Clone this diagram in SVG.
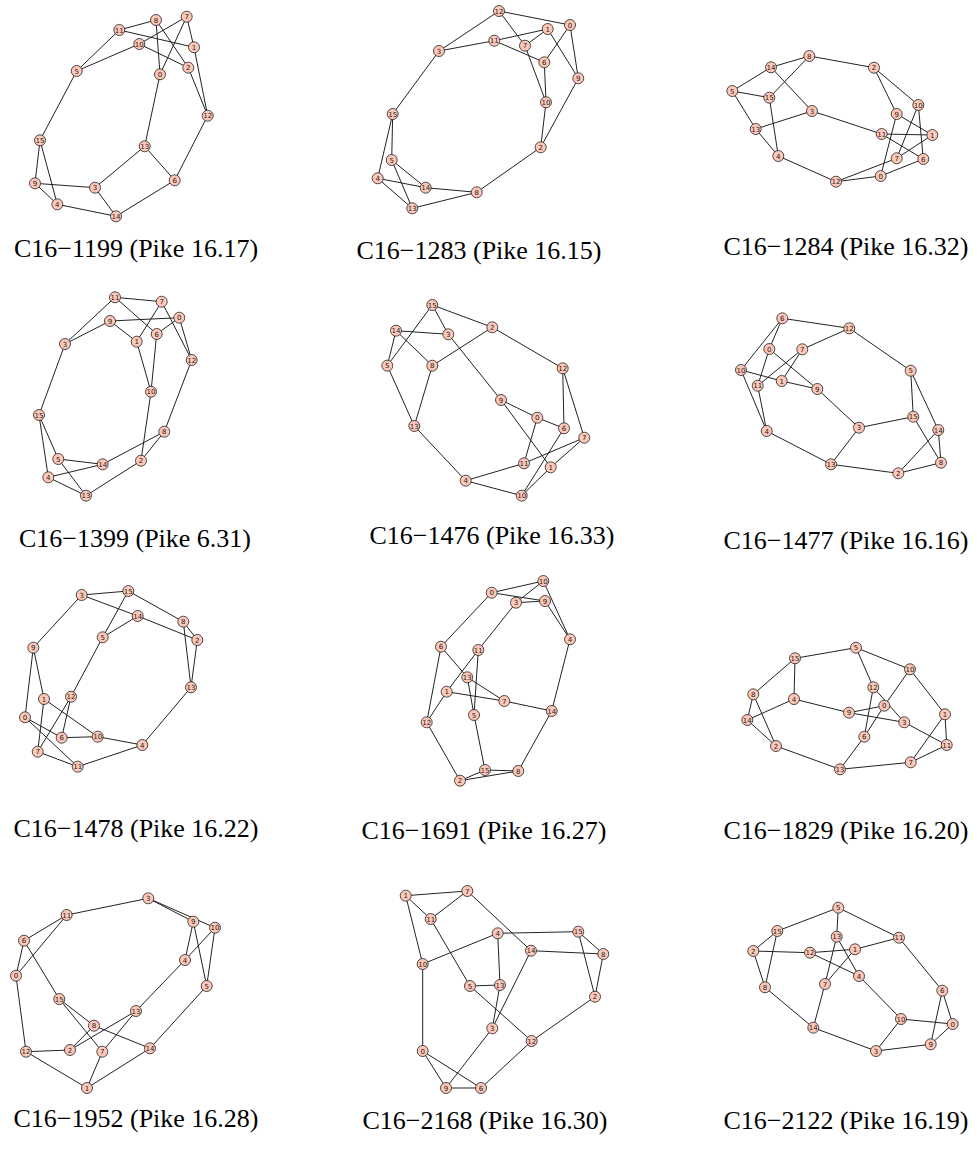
<svg xmlns="http://www.w3.org/2000/svg" width="977" height="1152" viewBox="0 0 977 1152">
<style>
  .edges path { stroke: #222; stroke-width: 1; fill: none; }
  .v circle { fill: #fec7b8; stroke: #222; stroke-width: 0.8; }
  .v text { font-family: "DejaVu Sans", sans-serif; font-size: 7px; fill: #222; text-anchor: middle; }
  .cap { font-family: "Liberation Serif", serif; font-size: 26px; fill: #000; text-anchor: middle; }
</style>
<rect width="977" height="1152" fill="#fff"/>

<!-- C16-1199 -->
<g id="graph-1199">
<g class="edges">
<path d="M119.3 30L156 20"/><path d="M156 20L160 74.3"/><path d="M156 20L188.3 67.7"/><path d="M186.7 16.7L139.3 44"/><path d="M186.7 16.7L160 74.3"/><path d="M186.7 16.7L194 47.3"/><path d="M119.3 30L194 47.3"/><path d="M119.3 30L76.7 71"/><path d="M139.3 44L76.7 71"/><path d="M139.3 44L188.3 67.7"/><path d="M194 47.3L207.7 115.7"/><path d="M188.3 67.7L207.7 115.7"/><path d="M207.7 115.7L174.7 180.3"/><path d="M160 74.3L144.7 146.3"/><path d="M144.7 146.3L174.7 180.3"/><path d="M144.7 146.3L95 187.7"/><path d="M76.7 71L40 140.3"/><path d="M40 140.3L35 183.3"/><path d="M40 140.3L57.3 204.3"/><path d="M35 183.3L95 187.7"/><path d="M35 183.3L57.3 204.3"/><path d="M95 187.7L116 216.3"/><path d="M57.3 204.3L116 216.3"/><path d="M116 216.3L174.7 180.3"/>
</g>
<g id="g1n0" class="v" transform="translate(160,74.3)"><circle r="5.5"/><text y="2.5">0</text></g>
<g id="g1n1" class="v" transform="translate(194,47.3)"><circle r="5.5"/><text y="2.5">1</text></g>
<g id="g1n2" class="v" transform="translate(188.3,67.7)"><circle r="5.5"/><text y="2.5">2</text></g>
<g id="g1n3" class="v" transform="translate(95,187.7)"><circle r="5.5"/><text y="2.5">3</text></g>
<g id="g1n4" class="v" transform="translate(57.3,204.3)"><circle r="5.5"/><text y="2.5">4</text></g>
<g id="g1n5" class="v" transform="translate(76.7,71)"><circle r="5.5"/><text y="2.5">5</text></g>
<g id="g1n6" class="v" transform="translate(174.7,180.3)"><circle r="5.5"/><text y="2.5">6</text></g>
<g id="g1n7" class="v" transform="translate(186.7,16.7)"><circle r="5.5"/><text y="2.5">7</text></g>
<g id="g1n8" class="v" transform="translate(156,20)"><circle r="5.5"/><text y="2.5">8</text></g>
<g id="g1n9" class="v" transform="translate(35,183.3)"><circle r="5.5"/><text y="2.5">9</text></g>
<g id="g1n10" class="v" transform="translate(139.3,44)"><circle r="5.5"/><text y="2.5">10</text></g>
<g id="g1n11" class="v" transform="translate(119.3,30)"><circle r="5.5"/><text y="2.5">11</text></g>
<g id="g1n12" class="v" transform="translate(207.7,115.7)"><circle r="5.5"/><text y="2.5">12</text></g>
<g id="g1n13" class="v" transform="translate(144.7,146.3)"><circle r="5.5"/><text y="2.5">13</text></g>
<g id="g1n14" class="v" transform="translate(116,216.3)"><circle r="5.5"/><text y="2.5">14</text></g>
<g id="g1n15" class="v" transform="translate(40,140.3)"><circle r="5.5"/><text y="2.5">15</text></g>
<text class="cap" x="136" y="257">C16−1199 (Pike 16.17)</text>
</g>

<!-- C16-1283 -->
<g id="graph-1283">
<g class="edges">
<path d="M499 11L570 25"/><path d="M499 11L439 51"/><path d="M499 11L525 45.7"/><path d="M570 25L544.3 62.3"/><path d="M570 25L578.3 78.3"/><path d="M547.7 29L494.3 40.7"/><path d="M547.7 29L525 45.7"/><path d="M547.7 29L578.3 78.3"/><path d="M494.3 40.7L439 51"/><path d="M494.3 40.7L544.3 62.3"/><path d="M525 45.7L546 102.3"/><path d="M544.3 62.3L546 102.3"/><path d="M546 102.3L540.7 147.3"/><path d="M578.3 78.3L540.7 147.3"/><path d="M540.7 147.3L476.7 192.3"/><path d="M439 51L392.7 114"/><path d="M392.7 114L391.7 160"/><path d="M392.7 114L377.7 178.3"/><path d="M391.7 160L425.7 187.7"/><path d="M391.7 160L412.3 208.3"/><path d="M377.7 178.3L425.7 187.7"/><path d="M377.7 178.3L412.3 208.3"/><path d="M425.7 187.7L476.7 192.3"/><path d="M412.3 208.3L476.7 192.3"/>
</g>
<g id="g2n0" class="v" transform="translate(570,25)"><circle r="5.5"/><text y="2.5">0</text></g>
<g id="g2n1" class="v" transform="translate(547.7,29)"><circle r="5.5"/><text y="2.5">1</text></g>
<g id="g2n2" class="v" transform="translate(540.7,147.3)"><circle r="5.5"/><text y="2.5">2</text></g>
<g id="g2n3" class="v" transform="translate(439,51)"><circle r="5.5"/><text y="2.5">3</text></g>
<g id="g2n4" class="v" transform="translate(377.7,178.3)"><circle r="5.5"/><text y="2.5">4</text></g>
<g id="g2n5" class="v" transform="translate(391.7,160)"><circle r="5.5"/><text y="2.5">5</text></g>
<g id="g2n6" class="v" transform="translate(544.3,62.3)"><circle r="5.5"/><text y="2.5">6</text></g>
<g id="g2n7" class="v" transform="translate(525,45.7)"><circle r="5.5"/><text y="2.5">7</text></g>
<g id="g2n8" class="v" transform="translate(476.7,192.3)"><circle r="5.5"/><text y="2.5">8</text></g>
<g id="g2n9" class="v" transform="translate(578.3,78.3)"><circle r="5.5"/><text y="2.5">9</text></g>
<g id="g2n10" class="v" transform="translate(546,102.3)"><circle r="5.5"/><text y="2.5">10</text></g>
<g id="g2n11" class="v" transform="translate(494.3,40.7)"><circle r="5.5"/><text y="2.5">11</text></g>
<g id="g2n12" class="v" transform="translate(499,11)"><circle r="5.5"/><text y="2.5">12</text></g>
<g id="g2n13" class="v" transform="translate(412.3,208.3)"><circle r="5.5"/><text y="2.5">13</text></g>
<g id="g2n14" class="v" transform="translate(425.7,187.7)"><circle r="5.5"/><text y="2.5">14</text></g>
<g id="g2n15" class="v" transform="translate(392.7,114)"><circle r="5.5"/><text y="2.5">15</text></g>
<text class="cap" x="479" y="259">C16−1283 (Pike 16.15)</text>
</g>

<!-- C16-1284 -->
<g id="graph-1284">
<g class="edges">
<path d="M771 67.3L809.3 56"/><path d="M809.3 56L874 67.7"/><path d="M809.3 56L769.3 97.7"/><path d="M771 67.3L732.3 91"/><path d="M771 67.3L812 111"/><path d="M732.3 91L769.3 97.7"/><path d="M732.3 91L755.7 129"/><path d="M769.3 97.7L778.3 156"/><path d="M755.7 129L812 111"/><path d="M755.7 129L778.3 156"/><path d="M812 111L881.7 134"/><path d="M874 67.7L896.7 114"/><path d="M874 67.7L918.3 105"/><path d="M896.7 114L932.3 135"/><path d="M896.7 114L880.7 176"/><path d="M918.3 105L896.7 158.3"/><path d="M918.3 105L923.3 159"/><path d="M881.7 134L932.3 135"/><path d="M881.7 134L923.3 159"/><path d="M932.3 135L896.7 158.3"/><path d="M896.7 158.3L836 181.7"/><path d="M778.3 156L836 181.7"/><path d="M836 181.7L880.7 176"/><path d="M880.7 176L923.3 159"/>
</g>
<g id="g3n0" class="v" transform="translate(880.7,176)"><circle r="5.5"/><text y="2.5">0</text></g>
<g id="g3n1" class="v" transform="translate(932.3,135)"><circle r="5.5"/><text y="2.5">1</text></g>
<g id="g3n2" class="v" transform="translate(874,67.7)"><circle r="5.5"/><text y="2.5">2</text></g>
<g id="g3n3" class="v" transform="translate(812,111)"><circle r="5.5"/><text y="2.5">3</text></g>
<g id="g3n4" class="v" transform="translate(778.3,156)"><circle r="5.5"/><text y="2.5">4</text></g>
<g id="g3n5" class="v" transform="translate(732.3,91)"><circle r="5.5"/><text y="2.5">5</text></g>
<g id="g3n6" class="v" transform="translate(923.3,159)"><circle r="5.5"/><text y="2.5">6</text></g>
<g id="g3n7" class="v" transform="translate(896.7,158.3)"><circle r="5.5"/><text y="2.5">7</text></g>
<g id="g3n8" class="v" transform="translate(809.3,56)"><circle r="5.5"/><text y="2.5">8</text></g>
<g id="g3n9" class="v" transform="translate(896.7,114)"><circle r="5.5"/><text y="2.5">9</text></g>
<g id="g3n10" class="v" transform="translate(918.3,105)"><circle r="5.5"/><text y="2.5">10</text></g>
<g id="g3n11" class="v" transform="translate(881.7,134)"><circle r="5.5"/><text y="2.5">11</text></g>
<g id="g3n12" class="v" transform="translate(836,181.7)"><circle r="5.5"/><text y="2.5">12</text></g>
<g id="g3n13" class="v" transform="translate(755.7,129)"><circle r="5.5"/><text y="2.5">13</text></g>
<g id="g3n14" class="v" transform="translate(771,67.3)"><circle r="5.5"/><text y="2.5">14</text></g>
<g id="g3n15" class="v" transform="translate(769.3,97.7)"><circle r="5.5"/><text y="2.5">15</text></g>
<text class="cap" x="846" y="255">C16−1284 (Pike 16.32)</text>
</g>

<!-- C16-1399 -->
<g id="graph-1399">
<g class="edges">
<path d="M115 297.3L161.7 301.7"/><path d="M115 297.3L156.7 334"/><path d="M115 297.3L65 344"/><path d="M161.7 301.7L136.7 341.7"/><path d="M161.7 301.7L191.7 360"/><path d="M179.3 317.7L110 321"/><path d="M179.3 317.7L156.7 334"/><path d="M179.3 317.7L191.7 360"/><path d="M110 321L65 344"/><path d="M110 321L136.7 341.7"/><path d="M136.7 341.7L151 391.7"/><path d="M156.7 334L151 391.7"/><path d="M151 391.7L141 460.7"/><path d="M191.7 360L164.3 431.7"/><path d="M164.3 431.7L141 460.7"/><path d="M164.3 431.7L102.7 464.3"/><path d="M65 344L39 415"/><path d="M39 415L58.3 459"/><path d="M39 415L48.3 477.3"/><path d="M58.3 459L102.7 464.3"/><path d="M58.3 459L86 495.7"/><path d="M48.3 477.3L102.7 464.3"/><path d="M48.3 477.3L86 495.7"/><path d="M86 495.7L141 460.7"/>
</g>
<g id="g4n0" class="v" transform="translate(179.3,317.7)"><circle r="5.5"/><text y="2.5">0</text></g>
<g id="g4n1" class="v" transform="translate(136.7,341.7)"><circle r="5.5"/><text y="2.5">1</text></g>
<g id="g4n2" class="v" transform="translate(141,460.7)"><circle r="5.5"/><text y="2.5">2</text></g>
<g id="g4n3" class="v" transform="translate(65,344)"><circle r="5.5"/><text y="2.5">3</text></g>
<g id="g4n4" class="v" transform="translate(48.3,477.3)"><circle r="5.5"/><text y="2.5">4</text></g>
<g id="g4n5" class="v" transform="translate(58.3,459)"><circle r="5.5"/><text y="2.5">5</text></g>
<g id="g4n6" class="v" transform="translate(156.7,334)"><circle r="5.5"/><text y="2.5">6</text></g>
<g id="g4n7" class="v" transform="translate(161.7,301.7)"><circle r="5.5"/><text y="2.5">7</text></g>
<g id="g4n8" class="v" transform="translate(164.3,431.7)"><circle r="5.5"/><text y="2.5">8</text></g>
<g id="g4n9" class="v" transform="translate(110,321)"><circle r="5.5"/><text y="2.5">9</text></g>
<g id="g4n10" class="v" transform="translate(151,391.7)"><circle r="5.5"/><text y="2.5">10</text></g>
<g id="g4n11" class="v" transform="translate(115,297.3)"><circle r="5.5"/><text y="2.5">11</text></g>
<g id="g4n12" class="v" transform="translate(191.7,360)"><circle r="5.5"/><text y="2.5">12</text></g>
<g id="g4n13" class="v" transform="translate(86,495.7)"><circle r="5.5"/><text y="2.5">13</text></g>
<g id="g4n14" class="v" transform="translate(102.7,464.3)"><circle r="5.5"/><text y="2.5">14</text></g>
<g id="g4n15" class="v" transform="translate(39,415)"><circle r="5.5"/><text y="2.5">15</text></g>
<text class="cap" x="135" y="547">C16−1399 (Pike 6.31)</text>
</g>

<!-- C16-1476 -->
<g id="graph-1476">
<g class="edges">
<path d="M432.3 305L492.3 327.3"/><path d="M432.3 305L448.3 334.3"/><path d="M432.3 305L387.3 365.7"/><path d="M396 330.7L448.3 334.3"/><path d="M396 330.7L387.3 365.7"/><path d="M396 330.7L432.3 365.7"/><path d="M448.3 334.3L501 400"/><path d="M492.3 327.3L432.3 365.7"/><path d="M492.3 327.3L562.7 368.3"/><path d="M387.3 365.7L414.3 426"/><path d="M432.3 365.7L414.3 426"/><path d="M562.7 368.3L564 428.3"/><path d="M562.7 368.3L584.3 437.7"/><path d="M501 400L537.3 417.7"/><path d="M501 400L550.7 467.3"/><path d="M537.3 417.7L564 428.3"/><path d="M537.3 417.7L524 463.3"/><path d="M414.3 426L465.7 480.7"/><path d="M584.3 437.7L524 463.3"/><path d="M584.3 437.7L550.7 467.3"/><path d="M564 428.3L521.7 495.7"/><path d="M550.7 467.3L521.7 495.7"/><path d="M465.7 480.7L524 463.3"/><path d="M465.7 480.7L521.7 495.7"/>
</g>
<g id="g5n0" class="v" transform="translate(537.3,417.7)"><circle r="5.5"/><text y="2.5">0</text></g>
<g id="g5n1" class="v" transform="translate(550.7,467.3)"><circle r="5.5"/><text y="2.5">1</text></g>
<g id="g5n2" class="v" transform="translate(492.3,327.3)"><circle r="5.5"/><text y="2.5">2</text></g>
<g id="g5n3" class="v" transform="translate(448.3,334.3)"><circle r="5.5"/><text y="2.5">3</text></g>
<g id="g5n4" class="v" transform="translate(465.7,480.7)"><circle r="5.5"/><text y="2.5">4</text></g>
<g id="g5n5" class="v" transform="translate(387.3,365.7)"><circle r="5.5"/><text y="2.5">5</text></g>
<g id="g5n6" class="v" transform="translate(564,428.3)"><circle r="5.5"/><text y="2.5">6</text></g>
<g id="g5n7" class="v" transform="translate(584.3,437.7)"><circle r="5.5"/><text y="2.5">7</text></g>
<g id="g5n8" class="v" transform="translate(432.3,365.7)"><circle r="5.5"/><text y="2.5">8</text></g>
<g id="g5n9" class="v" transform="translate(501,400)"><circle r="5.5"/><text y="2.5">9</text></g>
<g id="g5n10" class="v" transform="translate(521.7,495.7)"><circle r="5.5"/><text y="2.5">10</text></g>
<g id="g5n11" class="v" transform="translate(524,463.3)"><circle r="5.5"/><text y="2.5">11</text></g>
<g id="g5n12" class="v" transform="translate(562.7,368.3)"><circle r="5.5"/><text y="2.5">12</text></g>
<g id="g5n13" class="v" transform="translate(414.3,426)"><circle r="5.5"/><text y="2.5">13</text></g>
<g id="g5n14" class="v" transform="translate(396,330.7)"><circle r="5.5"/><text y="2.5">14</text></g>
<g id="g5n15" class="v" transform="translate(432.3,305)"><circle r="5.5"/><text y="2.5">15</text></g>
<text class="cap" x="492" y="544">C16−1476 (Pike 16.33)</text>
</g>

<!-- C16-1477 -->
<g id="graph-1477">
<g class="edges">
<path d="M782.3 318.3L849.3 328.3"/><path d="M782.3 318.3L769.3 349"/><path d="M782.3 318.3L741 370"/><path d="M849.3 328.3L802.3 349.3"/><path d="M849.3 328.3L910.7 370.7"/><path d="M769.3 349L757.7 385.7"/><path d="M769.3 349L817.3 389"/><path d="M802.3 349.3L757.7 385.7"/><path d="M802.3 349.3L781.7 381"/><path d="M741 370L781.7 381"/><path d="M741 370L766.7 431"/><path d="M781.7 381L817.3 389"/><path d="M757.7 385.7L766.7 431"/><path d="M817.3 389L859 427.7"/><path d="M910.7 370.7L913.3 416.7"/><path d="M910.7 370.7L938.3 430"/><path d="M913.3 416.7L859 427.7"/><path d="M913.3 416.7L941 462.7"/><path d="M859 427.7L831 464.3"/><path d="M766.7 431L831 464.3"/><path d="M831 464.3L898.3 473.3"/><path d="M938.3 430L898.3 473.3"/><path d="M938.3 430L941 462.7"/><path d="M898.3 473.3L941 462.7"/>
</g>
<g id="g6n0" class="v" transform="translate(769.3,349)"><circle r="5.5"/><text y="2.5">0</text></g>
<g id="g6n1" class="v" transform="translate(781.7,381)"><circle r="5.5"/><text y="2.5">1</text></g>
<g id="g6n2" class="v" transform="translate(898.3,473.3)"><circle r="5.5"/><text y="2.5">2</text></g>
<g id="g6n3" class="v" transform="translate(859,427.7)"><circle r="5.5"/><text y="2.5">3</text></g>
<g id="g6n4" class="v" transform="translate(766.7,431)"><circle r="5.5"/><text y="2.5">4</text></g>
<g id="g6n5" class="v" transform="translate(910.7,370.7)"><circle r="5.5"/><text y="2.5">5</text></g>
<g id="g6n6" class="v" transform="translate(782.3,318.3)"><circle r="5.5"/><text y="2.5">6</text></g>
<g id="g6n7" class="v" transform="translate(802.3,349.3)"><circle r="5.5"/><text y="2.5">7</text></g>
<g id="g6n8" class="v" transform="translate(941,462.7)"><circle r="5.5"/><text y="2.5">8</text></g>
<g id="g6n9" class="v" transform="translate(817.3,389)"><circle r="5.5"/><text y="2.5">9</text></g>
<g id="g6n10" class="v" transform="translate(741,370)"><circle r="5.5"/><text y="2.5">10</text></g>
<g id="g6n11" class="v" transform="translate(757.7,385.7)"><circle r="5.5"/><text y="2.5">11</text></g>
<g id="g6n12" class="v" transform="translate(849.3,328.3)"><circle r="5.5"/><text y="2.5">12</text></g>
<g id="g6n13" class="v" transform="translate(831,464.3)"><circle r="5.5"/><text y="2.5">13</text></g>
<g id="g6n14" class="v" transform="translate(938.3,430)"><circle r="5.5"/><text y="2.5">14</text></g>
<g id="g6n15" class="v" transform="translate(913.3,416.7)"><circle r="5.5"/><text y="2.5">15</text></g>
<text class="cap" x="846" y="549">C16−1477 (Pike 16.16)</text>
</g>

<!-- C16-1478 -->
<g id="graph-1478">
<g class="edges">
<path d="M81.7 595L128.3 591"/><path d="M81.7 595L137.7 616"/><path d="M81.7 595L33.3 647.7"/><path d="M128.3 591L102.7 637.3"/><path d="M128.3 591L183.3 621.7"/><path d="M137.7 616L102.7 637.3"/><path d="M137.7 616L197.3 640"/><path d="M183.3 621.7L197.3 640"/><path d="M183.3 621.7L191 687.3"/><path d="M197.3 640L191 687.3"/><path d="M102.7 637.3L71 696.7"/><path d="M33.3 647.7L44 699"/><path d="M33.3 647.7L25 717.3"/><path d="M191 687.3L142.3 745"/><path d="M71 696.7L37.7 751.7"/><path d="M71 696.7L61.7 737.7"/><path d="M44 699L97.7 736.7"/><path d="M44 699L37.7 751.7"/><path d="M25 717.3L61.7 737.7"/><path d="M25 717.3L77.7 766.7"/><path d="M61.7 737.7L97.7 736.7"/><path d="M97.7 736.7L142.3 745"/><path d="M37.7 751.7L77.7 766.7"/><path d="M77.7 766.7L142.3 745"/>
</g>
<g id="g7n0" class="v" transform="translate(25,717.3)"><circle r="5.5"/><text y="2.5">0</text></g>
<g id="g7n1" class="v" transform="translate(44,699)"><circle r="5.5"/><text y="2.5">1</text></g>
<g id="g7n2" class="v" transform="translate(197.3,640)"><circle r="5.5"/><text y="2.5">2</text></g>
<g id="g7n3" class="v" transform="translate(81.7,595)"><circle r="5.5"/><text y="2.5">3</text></g>
<g id="g7n4" class="v" transform="translate(142.3,745)"><circle r="5.5"/><text y="2.5">4</text></g>
<g id="g7n5" class="v" transform="translate(102.7,637.3)"><circle r="5.5"/><text y="2.5">5</text></g>
<g id="g7n6" class="v" transform="translate(61.7,737.7)"><circle r="5.5"/><text y="2.5">6</text></g>
<g id="g7n7" class="v" transform="translate(37.7,751.7)"><circle r="5.5"/><text y="2.5">7</text></g>
<g id="g7n8" class="v" transform="translate(183.3,621.7)"><circle r="5.5"/><text y="2.5">8</text></g>
<g id="g7n9" class="v" transform="translate(33.3,647.7)"><circle r="5.5"/><text y="2.5">9</text></g>
<g id="g7n10" class="v" transform="translate(97.7,736.7)"><circle r="5.5"/><text y="2.5">10</text></g>
<g id="g7n11" class="v" transform="translate(77.7,766.7)"><circle r="5.5"/><text y="2.5">11</text></g>
<g id="g7n12" class="v" transform="translate(71,696.7)"><circle r="5.5"/><text y="2.5">12</text></g>
<g id="g7n13" class="v" transform="translate(191,687.3)"><circle r="5.5"/><text y="2.5">13</text></g>
<g id="g7n14" class="v" transform="translate(137.7,616)"><circle r="5.5"/><text y="2.5">14</text></g>
<g id="g7n15" class="v" transform="translate(128.3,591)"><circle r="5.5"/><text y="2.5">15</text></g>
<text class="cap" x="136" y="837">C16−1478 (Pike 16.22)</text>
</g>

<!-- C16-1691 -->
<g id="graph-1691">
<g class="edges">
<path d="M491.7 592.7L543.3 581"/><path d="M491.7 592.7L545 601"/><path d="M491.7 592.7L441 646.7"/><path d="M543.3 581L516 602.7"/><path d="M543.3 581L570 639.3"/><path d="M516 602.7L545 601"/><path d="M516 602.7L478.3 650"/><path d="M545 601L570 639.3"/><path d="M570 639.3L551.7 711"/><path d="M441 646.7L467.3 677.3"/><path d="M441 646.7L426.7 722.3"/><path d="M478.3 650L446.7 691.7"/><path d="M478.3 650L474 715"/><path d="M467.3 677.3L474 715"/><path d="M467.3 677.3L504.3 701"/><path d="M446.7 691.7L504.3 701"/><path d="M446.7 691.7L426.7 722.3"/><path d="M504.3 701L551.7 711"/><path d="M551.7 711L518.3 771"/><path d="M426.7 722.3L460 780.7"/><path d="M474 715L485 770"/><path d="M485 770L518.3 771"/><path d="M485 770L460 780.7"/><path d="M460 780.7L518.3 771"/>
</g>
<g id="g8n0" class="v" transform="translate(491.7,592.7)"><circle r="5.5"/><text y="2.5">0</text></g>
<g id="g8n1" class="v" transform="translate(446.7,691.7)"><circle r="5.5"/><text y="2.5">1</text></g>
<g id="g8n2" class="v" transform="translate(460,780.7)"><circle r="5.5"/><text y="2.5">2</text></g>
<g id="g8n3" class="v" transform="translate(516,602.7)"><circle r="5.5"/><text y="2.5">3</text></g>
<g id="g8n4" class="v" transform="translate(570,639.3)"><circle r="5.5"/><text y="2.5">4</text></g>
<g id="g8n5" class="v" transform="translate(474,715)"><circle r="5.5"/><text y="2.5">5</text></g>
<g id="g8n6" class="v" transform="translate(441,646.7)"><circle r="5.5"/><text y="2.5">6</text></g>
<g id="g8n7" class="v" transform="translate(504.3,701)"><circle r="5.5"/><text y="2.5">7</text></g>
<g id="g8n8" class="v" transform="translate(518.3,771)"><circle r="5.5"/><text y="2.5">8</text></g>
<g id="g8n9" class="v" transform="translate(545,601)"><circle r="5.5"/><text y="2.5">9</text></g>
<g id="g8n10" class="v" transform="translate(543.3,581)"><circle r="5.5"/><text y="2.5">10</text></g>
<g id="g8n11" class="v" transform="translate(478.3,650)"><circle r="5.5"/><text y="2.5">11</text></g>
<g id="g8n12" class="v" transform="translate(426.7,722.3)"><circle r="5.5"/><text y="2.5">12</text></g>
<g id="g8n13" class="v" transform="translate(467.3,677.3)"><circle r="5.5"/><text y="2.5">13</text></g>
<g id="g8n14" class="v" transform="translate(551.7,711)"><circle r="5.5"/><text y="2.5">14</text></g>
<g id="g8n15" class="v" transform="translate(485,770)"><circle r="5.5"/><text y="2.5">15</text></g>
<text class="cap" x="484" y="839">C16−1691 (Pike 16.27)</text>
</g>

<!-- C16-1829 -->
<g id="graph-1829">
<g class="edges">
<path d="M856 647.7L795 658.3"/><path d="M856 647.7L910 669.3"/><path d="M856 647.7L873.3 687.3"/><path d="M795 658.3L753.3 694.3"/><path d="M795 658.3L794 699"/><path d="M910 669.3L884.3 705.7"/><path d="M910 669.3L945 714.3"/><path d="M873.3 687.3L904.3 722.3"/><path d="M873.3 687.3L864.3 736.7"/><path d="M753.3 694.3L747.3 720"/><path d="M753.3 694.3L776 746"/><path d="M794 699L747.3 720"/><path d="M794 699L849 712.7"/><path d="M849 712.7L884.3 705.7"/><path d="M849 712.7L904.3 722.3"/><path d="M884.3 705.7L864.3 736.7"/><path d="M945 714.3L946.7 745"/><path d="M945 714.3L910.7 762.3"/><path d="M904.3 722.3L946.7 745"/><path d="M747.3 720L776 746"/><path d="M776 746L840 769.3"/><path d="M864.3 736.7L840 769.3"/><path d="M840 769.3L910.7 762.3"/><path d="M910.7 762.3L946.7 745"/>
</g>
<g id="g9n0" class="v" transform="translate(884.3,705.7)"><circle r="5.5"/><text y="2.5">0</text></g>
<g id="g9n1" class="v" transform="translate(945,714.3)"><circle r="5.5"/><text y="2.5">1</text></g>
<g id="g9n2" class="v" transform="translate(776,746)"><circle r="5.5"/><text y="2.5">2</text></g>
<g id="g9n3" class="v" transform="translate(904.3,722.3)"><circle r="5.5"/><text y="2.5">3</text></g>
<g id="g9n4" class="v" transform="translate(794,699)"><circle r="5.5"/><text y="2.5">4</text></g>
<g id="g9n5" class="v" transform="translate(856,647.7)"><circle r="5.5"/><text y="2.5">5</text></g>
<g id="g9n6" class="v" transform="translate(864.3,736.7)"><circle r="5.5"/><text y="2.5">6</text></g>
<g id="g9n7" class="v" transform="translate(910.7,762.3)"><circle r="5.5"/><text y="2.5">7</text></g>
<g id="g9n8" class="v" transform="translate(753.3,694.3)"><circle r="5.5"/><text y="2.5">8</text></g>
<g id="g9n9" class="v" transform="translate(849,712.7)"><circle r="5.5"/><text y="2.5">9</text></g>
<g id="g9n10" class="v" transform="translate(910,669.3)"><circle r="5.5"/><text y="2.5">10</text></g>
<g id="g9n11" class="v" transform="translate(946.7,745)"><circle r="5.5"/><text y="2.5">11</text></g>
<g id="g9n12" class="v" transform="translate(873.3,687.3)"><circle r="5.5"/><text y="2.5">12</text></g>
<g id="g9n13" class="v" transform="translate(840,769.3)"><circle r="5.5"/><text y="2.5">13</text></g>
<g id="g9n14" class="v" transform="translate(747.3,720)"><circle r="5.5"/><text y="2.5">14</text></g>
<g id="g9n15" class="v" transform="translate(795,658.3)"><circle r="5.5"/><text y="2.5">15</text></g>
<text class="cap" x="846" y="839">C16−1829 (Pike 16.20)</text>
</g>

<!-- C16-1952 -->
<g id="graph-1952">
<g class="edges">
<path d="M148.3 898.3L66.7 915"/><path d="M148.3 898.3L193.3 921.7"/><path d="M148.3 898.3L215 927.7"/><path d="M66.7 915L24 940.7"/><path d="M66.7 915L16 975.7"/><path d="M193.3 921.7L185 960"/><path d="M193.3 921.7L206.7 986"/><path d="M215 927.7L185 960"/><path d="M215 927.7L206.7 986"/><path d="M24 940.7L16 975.7"/><path d="M24 940.7L59.3 999"/><path d="M16 975.7L26 1051.7"/><path d="M185 960L136 1011"/><path d="M206.7 986L150 1048.3"/><path d="M59.3 999L94 1025.7"/><path d="M59.3 999L102.3 1051.7"/><path d="M136 1011L70 1050"/><path d="M136 1011L102.3 1051.7"/><path d="M94 1025.7L70 1050"/><path d="M94 1025.7L150 1048.3"/><path d="M26 1051.7L70 1050"/><path d="M26 1051.7L87 1088"/><path d="M102.3 1051.7L87 1088"/><path d="M150 1048.3L87 1088"/>
</g>
<g id="g10n0" class="v" transform="translate(16,975.7)"><circle r="5.5"/><text y="2.5">0</text></g>
<g id="g10n1" class="v" transform="translate(87,1088)"><circle r="5.5"/><text y="2.5">1</text></g>
<g id="g10n2" class="v" transform="translate(70,1050)"><circle r="5.5"/><text y="2.5">2</text></g>
<g id="g10n3" class="v" transform="translate(148.3,898.3)"><circle r="5.5"/><text y="2.5">3</text></g>
<g id="g10n4" class="v" transform="translate(185,960)"><circle r="5.5"/><text y="2.5">4</text></g>
<g id="g10n5" class="v" transform="translate(206.7,986)"><circle r="5.5"/><text y="2.5">5</text></g>
<g id="g10n6" class="v" transform="translate(24,940.7)"><circle r="5.5"/><text y="2.5">6</text></g>
<g id="g10n7" class="v" transform="translate(102.3,1051.7)"><circle r="5.5"/><text y="2.5">7</text></g>
<g id="g10n8" class="v" transform="translate(94,1025.7)"><circle r="5.5"/><text y="2.5">8</text></g>
<g id="g10n9" class="v" transform="translate(193.3,921.7)"><circle r="5.5"/><text y="2.5">9</text></g>
<g id="g10n10" class="v" transform="translate(215,927.7)"><circle r="5.5"/><text y="2.5">10</text></g>
<g id="g10n11" class="v" transform="translate(66.7,915)"><circle r="5.5"/><text y="2.5">11</text></g>
<g id="g10n12" class="v" transform="translate(26,1051.7)"><circle r="5.5"/><text y="2.5">12</text></g>
<g id="g10n13" class="v" transform="translate(136,1011)"><circle r="5.5"/><text y="2.5">13</text></g>
<g id="g10n14" class="v" transform="translate(150,1048.3)"><circle r="5.5"/><text y="2.5">14</text></g>
<g id="g10n15" class="v" transform="translate(59.3,999)"><circle r="5.5"/><text y="2.5">15</text></g>
<text class="cap" x="136" y="1127">C16−1952 (Pike 16.28)</text>
</g>

<!-- C16-2168 -->
<g id="graph-2168">
<g class="edges">
<path d="M405.7 895.7L467.3 891"/><path d="M405.7 895.7L430.7 919"/><path d="M405.7 895.7L422.7 964"/><path d="M467.3 891L430.7 919"/><path d="M467.3 891L531 950.7"/><path d="M430.7 919L470 986"/><path d="M497.7 933.3L422.7 964"/><path d="M497.7 933.3L578.3 931.7"/><path d="M497.7 933.3L500 985"/><path d="M578.3 931.7L603.3 954"/><path d="M578.3 931.7L595 996.7"/><path d="M531 950.7L603.3 954"/><path d="M531 950.7L492.3 1028.3"/><path d="M603.3 954L595 996.7"/><path d="M422.7 964L422.7 1051"/><path d="M470 986L500 985"/><path d="M470 986L531.7 1041"/><path d="M500 985L492.3 1028.3"/><path d="M595 996.7L531.7 1041"/><path d="M492.3 1028.3L446 1088"/><path d="M531.7 1041L481 1088"/><path d="M422.7 1051L446 1088"/><path d="M422.7 1051L481 1088"/><path d="M446 1088L481 1088"/>
</g>
<g id="g11n0" class="v" transform="translate(422.7,1051)"><circle r="5.5"/><text y="2.5">0</text></g>
<g id="g11n1" class="v" transform="translate(405.7,895.7)"><circle r="5.5"/><text y="2.5">1</text></g>
<g id="g11n2" class="v" transform="translate(595,996.7)"><circle r="5.5"/><text y="2.5">2</text></g>
<g id="g11n3" class="v" transform="translate(492.3,1028.3)"><circle r="5.5"/><text y="2.5">3</text></g>
<g id="g11n4" class="v" transform="translate(497.7,933.3)"><circle r="5.5"/><text y="2.5">4</text></g>
<g id="g11n5" class="v" transform="translate(470,986)"><circle r="5.5"/><text y="2.5">5</text></g>
<g id="g11n6" class="v" transform="translate(481,1088)"><circle r="5.5"/><text y="2.5">6</text></g>
<g id="g11n7" class="v" transform="translate(467.3,891)"><circle r="5.5"/><text y="2.5">7</text></g>
<g id="g11n8" class="v" transform="translate(603.3,954)"><circle r="5.5"/><text y="2.5">8</text></g>
<g id="g11n9" class="v" transform="translate(446,1088)"><circle r="5.5"/><text y="2.5">9</text></g>
<g id="g11n10" class="v" transform="translate(422.7,964)"><circle r="5.5"/><text y="2.5">10</text></g>
<g id="g11n11" class="v" transform="translate(430.7,919)"><circle r="5.5"/><text y="2.5">11</text></g>
<g id="g11n12" class="v" transform="translate(531.7,1041)"><circle r="5.5"/><text y="2.5">12</text></g>
<g id="g11n13" class="v" transform="translate(500,985)"><circle r="5.5"/><text y="2.5">13</text></g>
<g id="g11n14" class="v" transform="translate(531,950.7)"><circle r="5.5"/><text y="2.5">14</text></g>
<g id="g11n15" class="v" transform="translate(578.3,931.7)"><circle r="5.5"/><text y="2.5">15</text></g>
<text class="cap" x="485" y="1129">C16−2168 (Pike 16.30)</text>
</g>

<!-- C16-2122 -->
<g id="graph-2122">
<g class="edges">
<path d="M838.3 907.7L777.3 931"/><path d="M838.3 907.7L836.7 936.7"/><path d="M838.3 907.7L899 937.7"/><path d="M777.3 931L753.3 951"/><path d="M777.3 931L765 987.3"/><path d="M753.3 951L810 952.7"/><path d="M753.3 951L765 987.3"/><path d="M810 952.7L855 949.3"/><path d="M810 952.7L859 976"/><path d="M836.7 936.7L825 984"/><path d="M836.7 936.7L859 976"/><path d="M855 949.3L899 937.7"/><path d="M855 949.3L825 984"/><path d="M899 937.7L942.3 990.7"/><path d="M859 976L901 1019"/><path d="M825 984L813.3 1027.7"/><path d="M765 987.3L813.3 1027.7"/><path d="M942.3 990.7L952.7 1024"/><path d="M942.3 990.7L930.7 1044.3"/><path d="M901 1019L952.7 1024"/><path d="M901 1019L876 1051"/><path d="M813.3 1027.7L876 1051"/><path d="M876 1051L930.7 1044.3"/><path d="M930.7 1044.3L952.7 1024"/>
</g>
<g id="g12n0" class="v" transform="translate(952.7,1024)"><circle r="5.5"/><text y="2.5">0</text></g>
<g id="g12n1" class="v" transform="translate(855,949.3)"><circle r="5.5"/><text y="2.5">1</text></g>
<g id="g12n2" class="v" transform="translate(753.3,951)"><circle r="5.5"/><text y="2.5">2</text></g>
<g id="g12n3" class="v" transform="translate(876,1051)"><circle r="5.5"/><text y="2.5">3</text></g>
<g id="g12n4" class="v" transform="translate(859,976)"><circle r="5.5"/><text y="2.5">4</text></g>
<g id="g12n5" class="v" transform="translate(838.3,907.7)"><circle r="5.5"/><text y="2.5">5</text></g>
<g id="g12n6" class="v" transform="translate(942.3,990.7)"><circle r="5.5"/><text y="2.5">6</text></g>
<g id="g12n7" class="v" transform="translate(825,984)"><circle r="5.5"/><text y="2.5">7</text></g>
<g id="g12n8" class="v" transform="translate(765,987.3)"><circle r="5.5"/><text y="2.5">8</text></g>
<g id="g12n9" class="v" transform="translate(930.7,1044.3)"><circle r="5.5"/><text y="2.5">9</text></g>
<g id="g12n10" class="v" transform="translate(901,1019)"><circle r="5.5"/><text y="2.5">10</text></g>
<g id="g12n11" class="v" transform="translate(899,937.7)"><circle r="5.5"/><text y="2.5">11</text></g>
<g id="g12n12" class="v" transform="translate(810,952.7)"><circle r="5.5"/><text y="2.5">12</text></g>
<g id="g12n13" class="v" transform="translate(836.7,936.7)"><circle r="5.5"/><text y="2.5">13</text></g>
<g id="g12n14" class="v" transform="translate(813.3,1027.7)"><circle r="5.5"/><text y="2.5">14</text></g>
<g id="g12n15" class="v" transform="translate(777.3,931)"><circle r="5.5"/><text y="2.5">15</text></g>
<text class="cap" x="846" y="1129">C16−2122 (Pike 16.19)</text>
</g>
</svg>
